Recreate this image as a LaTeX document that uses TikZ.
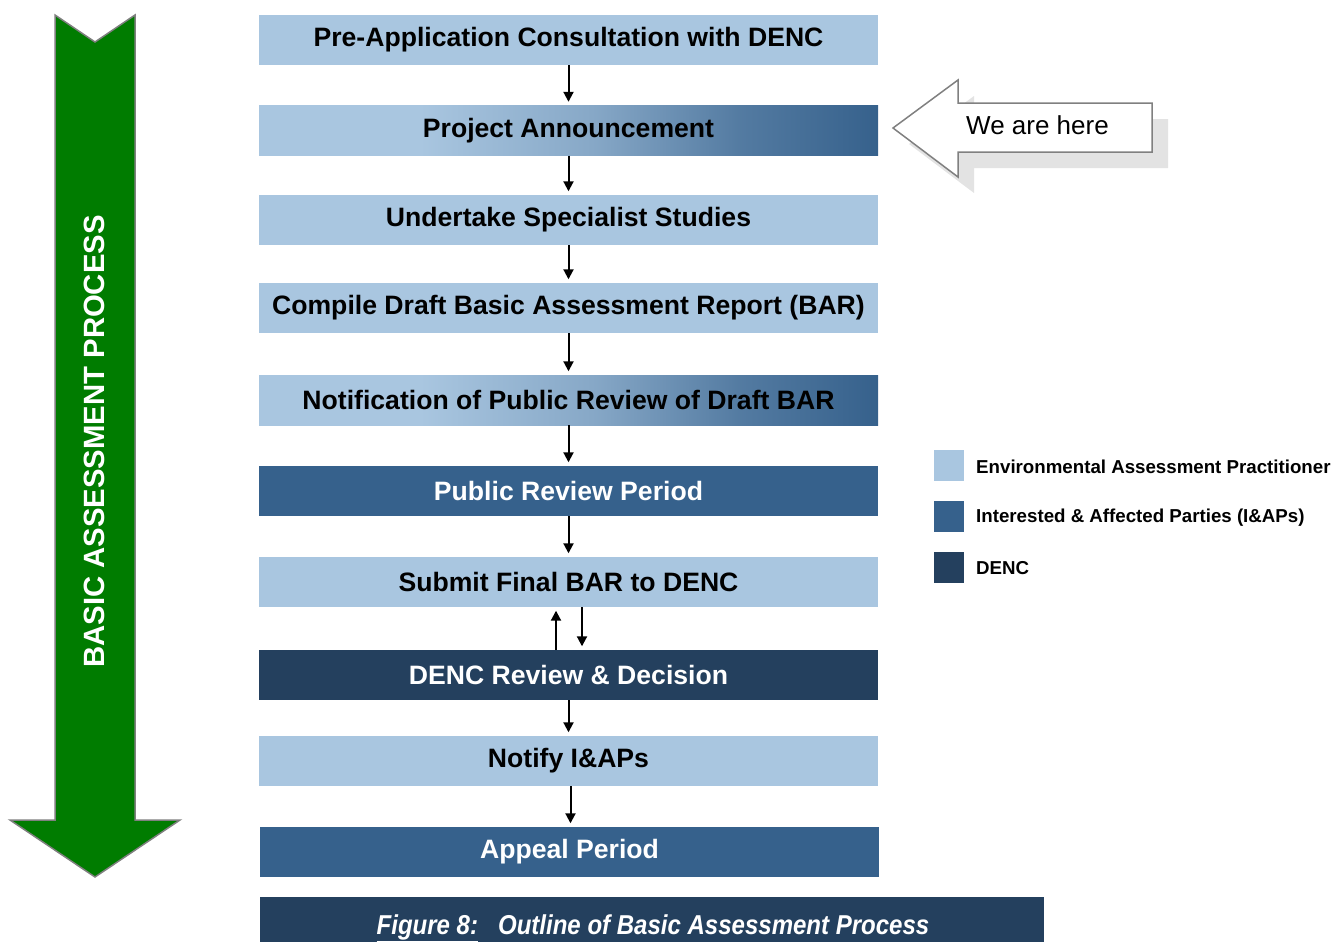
\documentclass[tikz,border=0pt]{standalone}
\usepackage{fontspec}
\setmainfont{Liberation Sans}
\newfontfamily\capfont[FakeStretch=0.88]{Liberation Sans}
\usetikzlibrary{arrows.meta,shadings}

\definecolor{eapblue}{RGB}{169,198,224}
\definecolor{iapblue}{RGB}{54,97,140}
\definecolor{dencblue}{RGB}{36,64,94}
\definecolor{procgreen}{RGB}{0,124,0}
\definecolor{edgegray}{RGB}{128,128,128}
\definecolor{shadowgray}{RGB}{227,227,227}

% light on the left, fading into the I&AP blue on the right
% (the filled path is mapped onto the 25bp--75bp band)
\pgfdeclarehorizontalshading{handover}{100bp}{%
  color(0bp)=(eapblue); color(25bp)=(eapblue); color(38bp)=(eapblue);
  color(52bp)=(eapblue!70!iapblue); color(64bp)=(eapblue!25!iapblue);
  color(75bp)=(iapblue); color(100bp)=(iapblue)}

\tikzset{
  stage/.style={minimum width=619pt, minimum height=50pt, inner sep=0pt,
    font=\fontsize{26.6}{28}\selectfont\bfseries},
  eap/.style={stage, fill=eapblue, text=black},
  iap/.style={stage, fill=iapblue, text=white},
  denc/.style={stage, fill=dencblue, text=white},
  mixed/.style={stage, shading=handover, text=black},
  flow/.style={line width=2pt, -{Triangle[width=10pt,length=10pt]}, shorten >=3.5pt},
  keybox/.style={minimum width=30pt, minimum height=31pt, inner sep=0pt},
  keytext/.style={anchor=west, inner sep=0pt, font=\fontsize{18.7}{20}\selectfont\bfseries},
}

\begin{document}
\begin{tikzpicture}[x=1pt, y=-1pt]
\useasboundingbox (0,0) rectangle (1334,942);

% process direction arrow
\draw[fill=procgreen, draw=edgegray, line width=1.5pt, line join=miter]
  (55,15) -- (95,42) -- (135,15) -- (135,820) -- (180,820) -- (95,877)
  -- (10,820) -- (55,820) -- cycle;
\node[rotate=90, text=white, font=\fontsize{29.3}{31}\selectfont\bfseries] (proc) at (94,441.5)
  {BASIC ASSESSMENT PROCESS};

% stages
\node[eap]   (b1)  at (568.5,40)    {Pre-Application Consultation with DENC};
\node[mixed] (b2)  at (568.5,130.5) {Project Announcement};
\node[eap]   (b3)  at (568.5,220)   {Undertake Specialist Studies};
\node[eap]   (b4)  at (568.5,308)   {Compile Draft Basic Assessment Report (BAR)};
\node[mixed] (b5)  at (568.5,400)   {Notification of Public Review of Draft BAR};
\node[iap]   (b6)  at (568.5,491)   {Public Review Period};
\node[eap]   (b7)  at (568.5,582)   {Submit Final BAR to DENC};
\node[denc]  (b8)  at (568.5,675)   {DENC Review \& Decision};
\node[eap]   (b9)  at (568.5,761)   {Notify I\&APs};
\node[iap]   (b10) at (569.5,852)   {Appeal Period};

% connectors
\draw[flow] (b1) -- (b2);
\draw[flow] (b2) -- (b3);
\draw[flow] (b3) -- (b4);
\draw[flow] (b4) -- (b5);
\draw[flow] (b5) -- (b6);
\draw[flow] (b6) -- (b7);
\draw[flow] ([xshift=-12.5pt]b8.north) -- ([xshift=-12.5pt]b7.south);
\draw[flow] ([xshift=13.5pt]b7.south) -- ([xshift=13.5pt]b8.north);
\draw[flow] (b8) -- (b9);
\draw[flow] ([xshift=2pt]b9.south) -- ([xshift=1pt]b10.north);

% "We are here" pointer with its drop shadow
\fill[shadowgray] (909,144) -- (974,96) -- (974,119) -- (1168,119) -- (1168,168)
  -- (974,168) -- (974,193) -- cycle;
\draw[fill=white, draw=edgegray, line width=1.5pt, line join=miter]
  (893,128) -- (958,80) -- (958,103) -- (1152,103) -- (1152,152)
  -- (958,152) -- (958,177) -- cycle;
\node[font=\fontsize{26}{28}\selectfont] (here) at (1037.5,125) {We are here};

% key
\node[keybox, fill=eapblue]  (k1) at (949,465.5) {};
\node[keybox, fill=iapblue]  (k2) at (949,516.5) {};
\node[keybox, fill=dencblue] (k3) at (949,567) {};
\node[keytext] (t1) at (976,467) {Environmental Assessment Practitioner};
\node[keytext] (t2) at (976,518) {Interested \& Affected Parties (I\&APs)};
\node[keytext] (t3) at (976,568.5) {DENC};

% caption bar
\fill[dencblue] (260,897) rectangle (1044,960);
\node[text=white, font=\capfont\fontsize{27.3}{29}\selectfont\bfseries\itshape] (cap) at (653,928)
  {\underline{Figure 8:}\hspace{20pt}Outline of Basic Assessment Process};
\end{tikzpicture}
\end{document}
